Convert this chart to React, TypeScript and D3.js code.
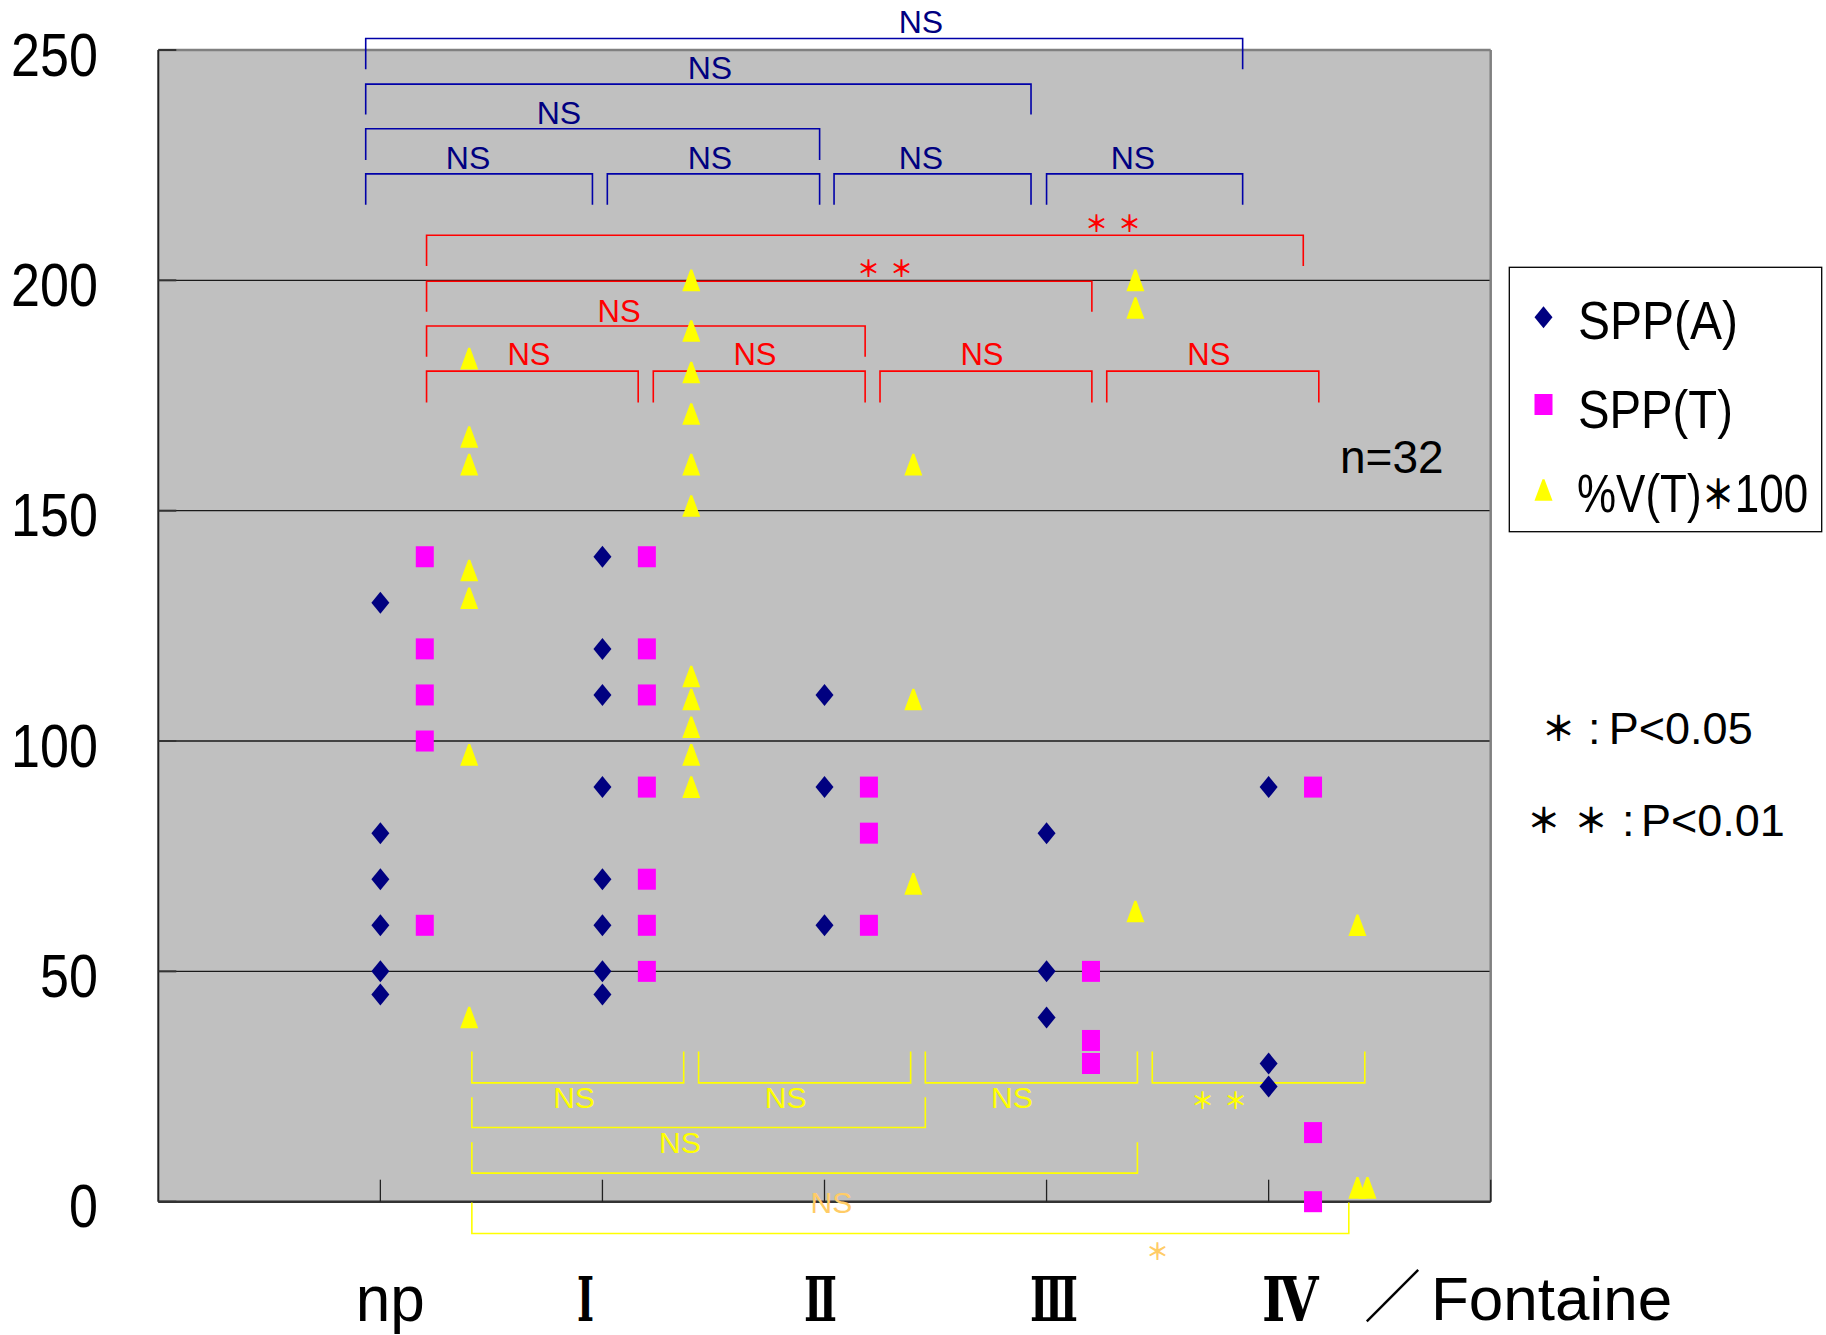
import React from "react";
import * as d3 from "d3";

// categories (Fontaine stage) on x = 1..5
const groups = ["np", "Ⅰ", "Ⅱ", "Ⅲ", "Ⅳ"];

// SPP(A) per group
const sppA = [
  [130, 80, 70, 60, 50, 45],
  [140, 120, 110, 90, 70, 60, 50, 45],
  [110, 90, 60],
  [80, 50, 40],
  [90, 30, 25],
];

// SPP(T) per group
const sppT = [
  [140, 120, 110, 100, 60],
  [140, 120, 110, 90, 70, 60, 50],
  [90, 80, 60],
  [50, 35, 30],
  [90, 15, 0],
];

// %V(T)*100 per group
const vT = [
  [183, 166, 160, 137, 131, 97, 40],
  [200, 189, 180, 171, 160, 151, 114, 109, 103, 97, 90],
  [160, 109, 69],
  [200, 194, 63],
  [60, 3, 3],
];
// x shift of the overlapping IV point (drawn next to the other one)
const vTShift = [[], [], [], [], [0, 0, 0.045]];

const yTicks = [0, 50, 100, 150, 200, 250];
const gridValues = [50, 100, 150, 200];

// significance brackets, in data units
const blueBrackets = [
  { x1: 0.934, x2: 4.883, line: 252.5, leg: 245.8, lx: 3.434, ly: 256, text: "NS" },
  { x1: 0.934, x2: 3.93, line: 242.6, leg: 236.0, lx: 2.484, ly: 246.1, text: "NS" },
  { x1: 0.934, x2: 2.978, line: 232.9, leg: 226.1, lx: 1.804, ly: 236.3, text: "NS" },
  { x1: 0.934, x2: 1.955, line: 223.1, leg: 216.4, lx: 1.395, ly: 226.6, text: "NS" },
  { x1: 2.022, x2: 2.978, line: 223.1, leg: 216.4, lx: 2.484, ly: 226.6, text: "NS" },
  { x1: 3.043, x2: 3.93, line: 223.1, leg: 216.4, lx: 3.434, ly: 226.6, text: "NS" },
  { x1: 4.0, x2: 4.883, line: 223.1, leg: 216.4, lx: 4.389, ly: 226.6, text: "NS" },
];

const redBrackets = [
  { x1: 1.208, x2: 5.156, line: 209.8, leg: 203.1, lx: 4.299, ly: 212.6, text: "＊＊" },
  { x1: 1.208, x2: 4.204, line: 199.8, leg: 193.2, lx: 3.272, ly: 202.9, text: "＊＊" },
  { x1: 1.208, x2: 3.183, line: 190.1, leg: 183.4, lx: 2.075, ly: 193.3, text: "NS" },
  { x1: 1.208, x2: 2.161, line: 180.3, leg: 173.5, lx: 1.669, ly: 183.8, text: "NS" },
  { x1: 2.229, x2: 3.183, line: 180.3, leg: 173.5, lx: 2.687, ly: 183.8, text: "NS" },
  { x1: 3.25, x2: 4.204, line: 180.3, leg: 173.5, lx: 3.709, ly: 183.8, text: "NS" },
  { x1: 4.271, x2: 5.226, line: 180.3, leg: 173.5, lx: 4.731, ly: 183.8, text: "NS" },
];

const yellowBrackets = [
  { x1: 1.412, x2: 2.366, line: 25.8, leg: 32.6, lx: 1.872, ly: 22.6, text: "NS", alt: false },
  { x1: 2.433, x2: 3.388, line: 25.8, leg: 32.6, lx: 2.825, ly: 22.6, text: "NS", alt: false },
  { x1: 3.454, x2: 4.409, line: 25.8, leg: 32.6, lx: 3.844, ly: 22.6, text: "NS", alt: false },
  { x1: 4.476, x2: 5.433, line: 25.8, leg: 32.6, lx: 4.776, ly: 22.3, text: "＊＊", alt: false },
  { x1: 1.412, x2: 3.454, line: 16.1, leg: 22.7, lx: 2.349, ly: 12.85, text: "NS", alt: false },
  { x1: 1.412, x2: 4.409, line: 6.2, leg: 12.9, lx: 3.031, ly: -0.2, text: "NS", alt: true },
  { x1: 1.412, x2: 5.361, line: -6.9, leg: -0.2, lx: 4.5, ly: -10.4, text: "＊", alt: true },
];

const legendItems = ["SPP(A)", "SPP(T)", "%V(T)", "＊", "100"];

const W = 1826;
const H = 1335;
const SANS = "'Liberation Sans', Arial, sans-serif";
const CJK = "'Noto Sans CJK JP', sans-serif";
const SERIF = "'DejaVu Serif', 'Liberation Serif', serif";

// category label layout: shift from the tick and drawn width
const labelDx = [10, -17, -4, 7.5, 21.5];
const labelW = [69, 17, 33, 48, 56.5];

const x = d3.scaleLinear().domain([0, 6]).range([158.3, 1490.7]);
const y = d3.scaleLinear().domain([0, 250]).range([1201.7, 50]);

const diamond = "M0,-11L9,0L0,11L-9,0Z";
const triangle = "M-1,-10.8L1,-10.8L9,10.8L-9,10.8Z";

function Diamond({ cx, cy }) {
  return <path d={diamond} transform={`translate(${cx},${cy})`} fill="#000080" />;
}
function Square({ cx, cy }) {
  return <rect x={cx - 9} y={cy - 10.5} width={18} height={21} fill="#FF00FF" />;
}
function Triangle({ cx, cy }) {
  return <path d={triangle} transform={`translate(${cx},${cy})`} fill="#FFFF00" />;
}

function Bracket({ b, color, textColor, size = 31 }) {
  const isStar = b.text.indexOf("＊") >= 0;
  return (
    <g>
      <path
        d={`M${x(b.x1)},${y(b.leg)}V${y(b.line)}H${x(b.x2)}V${y(b.leg)}`}
        fill="none"
        stroke={color}
        strokeWidth={1.6}
      />
      {isStar ? (
        <text
          x={x(b.lx)}
          y={y(b.ly)}
          dx={b.text.length > 1 ? 5 : 0}
          textAnchor="middle"
          dominantBaseline="central"
          fontFamily={CJK}
          fontWeight={700}
          fontSize={23}
          letterSpacing={b.text.length > 1 ? 10 : 0}
          fill={textColor}
        >
          {b.text}
        </text>
      ) : (
        <text
          x={x(b.lx)}
          y={y(b.ly)}
          textAnchor="middle"
          dominantBaseline="central"
          fontSize={size}
          fill={textColor}
        >
          {b.text}
        </text>
      )}
    </g>
  );
}

export default function App() {
  const plotL = x(0);
  const plotR = x(6);
  const plotT = y(250);
  const plotB = y(0);

  return (
    <svg
      width={W}
      height={H}
      style={{ position: "absolute", left: 0, top: 0, background: "#fff" }}
      fontFamily={SANS}
    >
      <rect x={0} y={0} width={W} height={H} fill="#fff" />

      {/* plot area */}
      <rect x={plotL} y={plotT} width={plotR - plotL} height={plotB - plotT} fill="#C0C0C0" />
      {gridValues.map((v) => (
        <line key={v} x1={plotL} x2={plotR} y1={y(v)} y2={y(v)} stroke="#1a1a1a" strokeWidth={1.3} />
      ))}
      {/* frame */}
      <line x1={plotL} x2={plotR} y1={plotT} y2={plotT} stroke="#808080" strokeWidth={2.5} />
      <line x1={plotR} x2={plotR} y1={plotT} y2={plotB} stroke="#808080" strokeWidth={2.5} />
      <line x1={plotL} x2={plotL} y1={plotT} y2={plotB} stroke="#222" strokeWidth={2} />
      <line x1={plotL} x2={plotR} y1={plotB} y2={plotB} stroke="#333" strokeWidth={2.5} />
      {yTicks.map((v) => (
        <line key={v} x1={plotL} x2={plotL + 18} y1={y(v)} y2={y(v)} stroke="#333" strokeWidth={2} />
      ))}
      {d3.range(1, 7).map((v) => (
        <line key={v} x1={x(v)} x2={x(v)} y1={plotB - 22} y2={plotB} stroke="#222" strokeWidth={1.3} />
      ))}

      {/* y labels */}
      {yTicks.map((v) => (
        <text
          key={v}
          transform={`translate(98,${y(v) + 4}) scale(0.84,1)`}
          textAnchor="end"
          dominantBaseline="central"
          fontSize={62}
          fill="#000"
        >
          {v}
        </text>
      ))}

      {/* brackets */}
      {blueBrackets.map((b, i) => (
        <Bracket key={"b" + i} b={b} color="#0000A8" textColor="#000080" size={32} />
      ))}
      {redBrackets.map((b, i) => (
        <Bracket key={"r" + i} b={b} color="#FF0000" textColor="#FF0000" size={31} />
      ))}
      {yellowBrackets.map((b, i) => (
        <Bracket
          key={"y" + i}
          b={b}
          color="#FFFF00"
          textColor={b.alt ? "#FFCC66" : "#FFFF00"}
          size={30}
        />
      ))}

      {/* points */}
      {sppA.map((vals, g) =>
        vals.map((v, i) => <Diamond key={`a${g}-${i}`} cx={x(g + 1)} cy={y(v)} />)
      )}
      {sppT.map((vals, g) =>
        vals.map((v, i) => <Square key={`t${g}-${i}`} cx={x(g + 1.2)} cy={y(v)} />)
      )}
      {vT.map((vals, g) =>
        vals.map((v, i) => (
          <Triangle key={`v${g}-${i}`} cx={x(g + 1.4 + (vTShift[g][i] || 0))} cy={y(v)} />
        ))
      )}

      {/* n */}
      <text x={1340} y={473.3} fontSize={46} fill="#000">
        n=32
      </text>

      {/* legend */}
      <rect x={1509.3} y={267.3} width={312.4} height={264.4} fill="#fff" stroke="#000" strokeWidth={1.3} />
      <Diamond cx={1543.5} cy={317.3} />
      <Square cx={1543.5} cy={404.5} />
      <Triangle cx={1543.5} cy={490} />
      <text transform="translate(1578,339.3) scale(0.905,1)" fontSize={53}>
        {legendItems[0]}
      </text>
      <text transform="translate(1578,428) scale(0.892,1)" fontSize={53}>
        {legendItems[1]}
      </text>
      <text transform="translate(1577,511.7) scale(0.83,1)" fontSize={53}>
        {legendItems[2]}
        <tspan fontFamily={CJK} fontWeight={700} fontSize={40} dy={-3}>
          {legendItems[3]}
        </tspan>
        <tspan dy={3}>{legendItems[4]}</tspan>
      </text>

      {/* significance key */}
      <text y={744.3} fontSize={45} fill="#000">
        <tspan x={1541.6} fontFamily={CJK} fontWeight={700} fontSize={34} dy={-3}>＊</tspan>
        <tspan x={1588} dy={3}>:</tspan>
        <tspan x={1608.8}>P&lt;0.05</tspan>
      </text>
      <text y={836} fontSize={45} fill="#000">
        <tspan x={1526.8} fontFamily={CJK} fontWeight={700} fontSize={34} dy={-3}>＊</tspan>
        <tspan x={1574} fontFamily={CJK} fontWeight={700} fontSize={34}>＊</tspan>
        <tspan x={1622} dy={3}>:</tspan>
        <tspan x={1641}>P&lt;0.01</tspan>
      </text>

      {/* x labels */}
      {groups.map((g, i) => (
        <text
          key={g}
          x={x(i + 1) + labelDx[i]}
          y={1320.5}
          fontSize={i === 0 ? 64 : 62}
          fontFamily={i === 0 ? SANS : SERIF}
          fontWeight={i === 0 ? 400 : 700}
          textAnchor="middle"
          textLength={labelW[i]}
          lengthAdjust="spacingAndGlyphs"
        >
          {g}
        </text>
      ))}
      <text x={1364} y={1317} fontSize={57} fontFamily={CJK}>
        ／
      </text>
      <text x={1431} y={1320} fontSize={62}>
        Fontaine
      </text>
    </svg>
  );
}
